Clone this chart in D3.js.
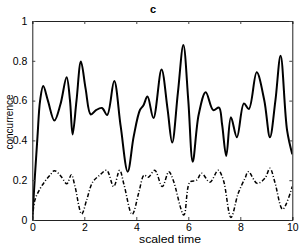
<!DOCTYPE html>
<html><head><meta charset="utf-8">
<script src="https://cdn.jsdelivr.net/npm/d3@7"></script>
<style>html,body{margin:0;padding:0;background:#fff;}svg{display:block;font-family:"Liberation Sans",Arial,sans-serif;}</style>
</head><body>
<svg id="c" width="300" height="245"></svg>
<script>
const title = "c";
const xLabel = "scaled time";
const yLabel = "concurrence";
const xTicks = [0, 2, 4, 6, 8, 10];
const yTicks = [0, 0.2, 0.4, 0.6, 0.8, 1];

const solidT = [0, 0.1, 0.2, 0.3, 0.42, 0.6, 0.85, 1.08, 1.32, 1.45, 1.55, 1.7, 1.87, 2.05, 2.25, 2.45, 2.68, 2.88, 3.15, 3.4, 3.67, 3.9, 4.14, 4.27, 4.43, 4.66, 4.97, 5.2, 5.38, 5.6, 5.81, 6.0, 6.17, 6.4, 6.67, 6.96, 7.18, 7.3, 7.46, 7.64, 7.87, 8.14, 8.33, 8.63, 8.92, 9.14, 9.35, 9.55, 9.8, 10];
const solidV = [0, 0.22, 0.42, 0.6, 0.673, 0.6, 0.5, 0.58, 0.717, 0.6, 0.43, 0.6, 0.796, 0.66, 0.53, 0.552, 0.563, 0.528, 0.698, 0.47, 0.243, 0.42, 0.553, 0.575, 0.62, 0.512, 0.756, 0.56, 0.389, 0.64, 0.879, 0.6, 0.293, 0.53, 0.642, 0.552, 0.565, 0.48, 0.322, 0.516, 0.416, 0.586, 0.558, 0.742, 0.603, 0.416, 0.6, 0.826, 0.45, 0.33];

const dashT = [0, 0.1, 0.29, 0.49, 0.68, 0.85, 1.1, 1.33, 1.5, 1.64, 1.9, 2.09, 2.32, 2.6, 2.86, 3.13, 3.36, 3.53, 3.84, 4.1, 4.3, 4.46, 4.71, 5.0, 5.25, 5.42, 5.83, 6.06, 6.32, 6.51, 6.83, 7.15, 7.35, 7.64, 7.92, 8.18, 8.31, 8.65, 8.95, 9.14, 9.33, 9.63, 10];
const dashV = [0, 0.1, 0.155, 0.195, 0.225, 0.248, 0.22, 0.182, 0.228, 0.17, 0.03, 0.10, 0.19, 0.226, 0.25, 0.168, 0.25, 0.176, 0.028, 0.14, 0.225, 0.215, 0.25, 0.168, 0.243, 0.2, 0.025, 0.19, 0.2, 0.235, 0.19, 0.25, 0.2, 0.013, 0.134, 0.21, 0.243, 0.184, 0.21, 0.26, 0.19, 0.054, 0.168];

const svg = d3.select("#c");
const L = 32.3, R = 292.3, T = 21, B = 220;
const x = d3.scaleLinear().domain([0, 10]).range([L, R]);
const y = d3.scaleLinear().domain([0, 1]).range([B, T]);

svg.append("clipPath").attr("id", "pc").append("rect")
  .attr("x", L).attr("y", T - 2).attr("width", R - L).attr("height", B - T + 2);

const line = d3.line().x(d => x(d[0])).y(d => y(d[1])).curve(d3.curveCatmullRom.alpha(0.5));
const g = svg.append("g").attr("clip-path", "url(#pc)");
g.append("path").datum(dashT.map((t, i) => [t, dashV[i]]))
  .attr("d", line).attr("fill", "none").attr("stroke", "#000")
  .attr("stroke-width", 1.5).attr("stroke-dasharray", "4,2,1,2");
g.append("path").datum(solidT.map((t, i) => [t, solidV[i]]))
  .attr("d", line).attr("fill", "none").attr("stroke", "#000")
  .attr("stroke-width", 2);

const tk = 3;
const font = '"Liberation Sans",Arial,sans-serif';
const axB = svg.append("g").attr("transform", `translate(0,${B})`)
  .call(d3.axisBottom(x).tickValues(xTicks).tickSize(-tk).tickPadding(4).tickFormat(d3.format("d")));
const axT = svg.append("g").attr("transform", `translate(0,${T})`)
  .call(d3.axisTop(x).tickValues(xTicks).tickSize(-tk).tickFormat(""));
const axL = svg.append("g").attr("transform", `translate(${L},0)`)
  .call(d3.axisLeft(y).tickValues(yTicks).tickSize(-tk).tickPadding(5).tickFormat(d => d === 0 ? "0" : d === 1 ? "1" : d3.format(".1f")(d)));
const axR = svg.append("g").attr("transform", `translate(${R},0)`)
  .call(d3.axisRight(y).tickValues(yTicks).tickSize(-tk).tickFormat(""));
[axB, axT, axL, axR].forEach(a => {
  a.select(".domain").attr("stroke", "#222").attr("stroke-width", 1);
  a.selectAll(".tick line").attr("stroke", "#444");
  a.selectAll("text").attr("fill", "#000").attr("font-size", 10.5).attr("font-family", font);
});
axB.selectAll(".tick text").attr("dy", "0.71em");

svg.append("text").attr("x", 153).attr("y", 13).attr("text-anchor", "middle")
  .attr("font-size", 11).attr("font-weight", "bold").text(title);
svg.append("text").attr("x", 170).attr("y", 243).attr("text-anchor", "middle")
  .attr("font-size", 11).attr("textLength", 62).attr("lengthAdjust", "spacingAndGlyphs").text(xLabel);
svg.append("text").attr("transform", `translate(12.5,122) rotate(-90)`).attr("text-anchor", "middle")
  .attr("font-size", 10).text(yLabel);
</script>
</body></html>
